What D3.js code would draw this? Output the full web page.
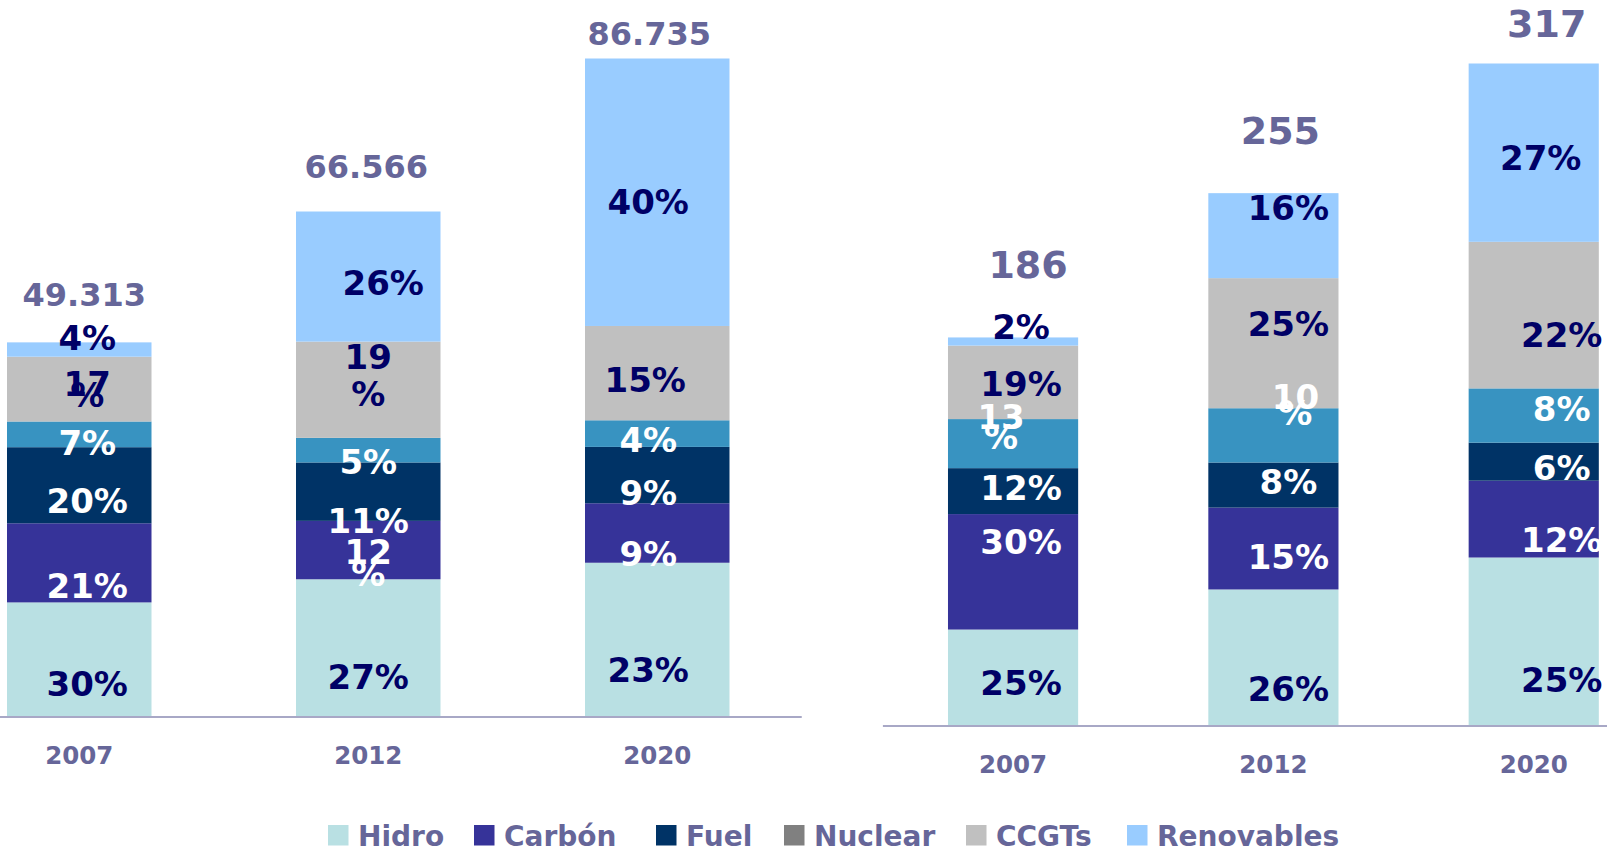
<!DOCTYPE html>
<html>
<head>
<meta charset="utf-8">
<script src="https://cdn.jsdelivr.net/npm/d3@7"></script>
<style>
  body { margin: 0; background: #fff; }
  svg { display: block; }
  text { font-family: "DejaVu Sans", Verdana, sans-serif; font-weight: bold; }
</style>
</head>
<body>
<svg id="chart" width="1607" height="848"></svg>
<script>
// ---- data ----
const years = ["2007", "2012", "2020"];
const series = ["Hidro", "Carbón", "Fuel", "Cogeneración", "CCGTs", "Renovables"];
const legendNames = ["Hidro", "Carbón", "Fuel", "Nuclear", "CCGTs", "Renovables"];

// left chart (energy)
const leftHidro = [15.04, 18.09, 20.27];
const leftCarbon = [10.43, 7.70, 7.84];
const leftFuel = [10.03, 7.70, 7.43];
const leftCogen = [3.39, 3.24, 3.51];
const leftCCGT = [8.54, 12.69, 12.43];
const leftRenov = [1.89, 17.15, 35.26];
const leftTotals = ["49.313", "66.566", "86.735"];
const leftPct = [
  ["30%", "27%", "23%"],
  ["21%", "12\n%", "9%"],
  ["20%", "11%", "9%"],
  ["7%", "5%", "4%"],
  ["17\n%", "19\n%", "15%"],
  ["4%", "26%", "40%"]
];

// right chart (capacity)
const rightHidro = [46.0, 65.2, 80.5];
const rightCarbon = [55.3, 39.2, 36.8];
const rightFuel = [22.0, 21.6, 18.2];
const rightCogen = [23.5, 26.0, 26.0];
const rightCCGT = [35.2, 62.3, 70.2];
const rightRenov = [3.9, 40.7, 85.4];
const rightTotals = ["186", "255", "317"];
const rightPct = [
  ["25%", "26%", "25%"],
  ["30%", "15%", "12%"],
  ["12%", "8%", "6%"],
  ["13\n%", "10\n%", "8%"],
  ["19%", "25%", "22%"],
  ["2%", "16%", "27%"]
];

// ---- styles / layout ----
const colors = {
  "Hidro": "#b9e0e3", "Carbón": "#363399", "Fuel": "#003366",
  "Cogeneración": "#3893c1", "Nuclear": "#808080", "CCGTs": "#c0c0c0", "Renovables": "#99ccff"
};
const labelColors = {
  "Hidro": "#000066", "Carbón": "#ffffff", "Fuel": "#ffffff",
  "Cogeneración": "#ffffff", "CCGTs": "#000066", "Renovables": "#000066"
};
const textColor = "#666699";

// label nudges [dx, dy, lineGap] relative to segment centre
const leftNudge = [
  [[8, 24], [0, 29], [-9, 30]],
  [[8, 23], [0, 13, 22], [-9, 21]],
  [[8, 16], [0, 29], [-9, 18]],
  [[8, 8], [0, 12], [-9, 6]],
  [[8, 0, 11], [0, -14, 37], [-12, 7]],
  [[8, -12], [15, 6], [-9, 10]]
];
const rightNudge = [
  [[8, 5], [15, 31], [28, 38]],
  [[8, -30], [15, 8], [28, 21]],
  [[8, -3], [15, -3], [28, 6]],
  [[-12, -17, 20], [22, -31, 16], [28, -7]],
  [[8, 1], [15, -19], [28, 20]],
  [[8, -15], [15, -28], [7, 5]]
];

const W = 1607;
const svg = d3.select("#chart");

function drawPanel(p) {
  const table = years.map((yr, i) => {
    const row = { year: yr };
    series.forEach((s, k) => { row[s] = p.values[k][i]; });
    return row;
  });
  const stacked = d3.stack().keys(series)(table);
  const yMax = d3.max(stacked[stacked.length - 1], d => d[1]);

  const x = d3.scaleBand().domain(years).range(p.xRange)
    .paddingInner(0.5).paddingOuter(0.25);
  const y = d3.scaleLinear().domain([0, yMax]).range([p.base, p.top]);
  const g = svg.append("g");

  g.selectAll("g.layer")
    .data(stacked)
    .join("g")
    .attr("class", "layer")
    .attr("fill", d => colors[d.key])
    .selectAll("rect")
    .data(d => d)
    .join("rect")
    .attr("x", d => x(d.data.year))
    .attr("y", d => y(d[1]))
    .attr("width", x.bandwidth())
    .attr("height", d => y(d[0]) - y(d[1]));

  // axis
  const axis = g.append("g")
    .attr("transform", `translate(0,${p.base})`)
    .call(d3.axisBottom(x).tickSize(0));
  axis.select(".domain").remove();
  axis.selectAll("text")
    .attr("y", 39)
    .attr("dy", "0.36em")
    .attr("fill", textColor)
    .style("font-size", "24.5px")
    .style("font-family", "'DejaVu Sans', Verdana, sans-serif")
    .style("font-weight", "bold");
  g.append("line")
    .attr("x1", Math.max(0, p.xRange[0]))
    .attr("x2", Math.min(W, p.xRange[1]))
    .attr("y1", p.base + 0.5).attr("y2", p.base + 0.5)
    .attr("stroke", "#a8a8c6").attr("stroke-width", 2);

  // segment labels
  stacked.forEach((layer, k) => {
    layer.forEach((seg, i) => {
      const n = p.nudge[k][i];
      const cx = x(years[i]) + x.bandwidth() / 2 + n[0];
      const cy = (y(seg[0]) + y(seg[1])) / 2 + n[1];
      const lines = p.pct[k][i].split("\n");
      const gap = n[2] || 0;
      lines.forEach((t, j) => {
        const off = lines.length > 1 ? (j - (lines.length - 1) / 2) * gap : 0;
        g.append("text")
          .attr("x", cx)
          .attr("y", cy + off)
          .attr("dy", "0.36em")
          .attr("text-anchor", "middle")
          .attr("fill", labelColors[layer.key])
          .style("font-size", "34px")
          .text(t);
      });
    });
  });

  // totals
  const top = stacked[stacked.length - 1];
  top.forEach((seg, i) => {
    const o = p.totalNudge[i];
    g.append("text")
      .attr("x", x(years[i]) + x.bandwidth() / 2 + o[0])
      .attr("y", y(seg[1]) + o[1])
      .attr("dy", "0.36em")
      .attr("text-anchor", "middle")
      .attr("fill", textColor)
      .style("font-size", p.totalSize + "px")
      .text(p.totals[i]);
  });
}

drawPanel({
  values: [leftHidro, leftCarbon, leftFuel, leftCogen, leftCCGT, leftRenov],
  pct: leftPct, totals: leftTotals, nudge: leftNudge, totalSize: 32,
  totalNudge: [[5, -48], [-2, -45], [-8, -25]],
  xRange: [-65.25, 801.75], base: 716.5, top: 58.5
});

drawPanel({
  values: [rightHidro, rightCarbon, rightFuel, rightCogen, rightCCGT, rightRenov],
  pct: rightPct, totals: rightTotals, nudge: rightNudge, totalSize: 38,
  totalNudge: [[15, -73], [7, -63], [13, -40]],
  xRange: [882.9, 1663.9], base: 725.6, top: 63.5
});

// legend
const legendX = [328, 474, 656, 784, 966, 1127];
const legend = svg.append("g").attr("transform", "translate(0,825)");
const item = legend.selectAll("g")
  .data(legendNames)
  .join("g")
  .attr("transform", (d, i) => `translate(${legendX[i]},0)`);
item.append("rect")
  .attr("width", 20.5).attr("height", 20.5)
  .attr("fill", d => colors[d]);
item.append("text")
  .attr("x", 30).attr("y", 20.5)
  .attr("fill", textColor)
  .style("font-size", "28px")
  .text(d => d);
</script>
</body>
</html>
